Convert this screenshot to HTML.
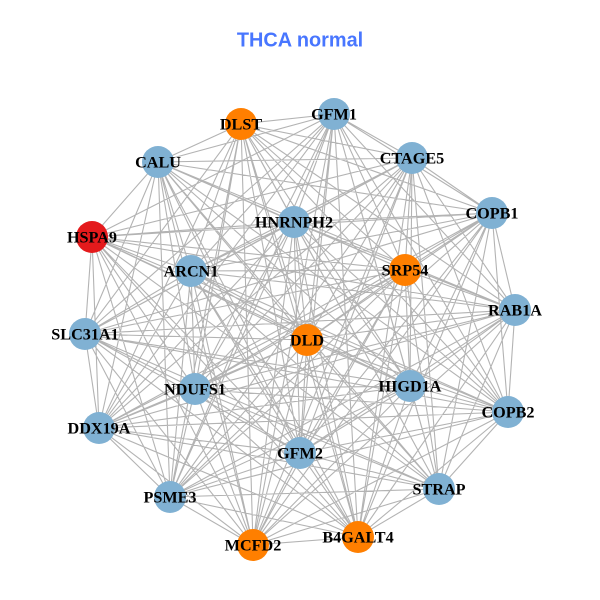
<!DOCTYPE html>
<html><head><meta charset="utf-8"><title>THCA normal</title>
<style>html,body{margin:0;padding:0;background:#fff}svg{display:block}
text.n{font-family:"Liberation Serif",serif;font-weight:bold;font-size:16.2px;fill:#000;text-anchor:middle;dominant-baseline:central}
text.t{font-family:"Liberation Sans",sans-serif;font-weight:bold;font-size:19.9px;fill:#4876ff;text-anchor:middle;dominant-baseline:central}
</style></head><body>
<svg width="600" height="600" viewBox="0 0 600 600" xmlns="http://www.w3.org/2000/svg">
<rect width="600" height="600" fill="#fff"/>
<path fill="none" stroke="#b3b3b3" stroke-width="1.1" d="
M241 124L334 114 241 124 412 158 241 124 492 213 241 124 515 310 241 124 508 412 241 124 439 489 241 124 358 537 241 124 253 545 241 124 170 497 241 124 99 428 241 124 85 334 241 124 158 162 241 124 294 222 241 124 405 270 241 124 191 271 241 124 195 389 241 124 307 340 241 124 410 386 241 124 300 453
M334 114L412 158 334 114 492 213 334 114 515 310 334 114 508 412 334 114 439 489 334 114 358 537 334 114 253 545 334 114 170 497 334 114 99 428 334 114 85 334 334 114 92 237 334 114 158 162 334 114 294 222 334 114 405 270 334 114 191 271 334 114 195 389 334 114 307 340 334 114 410 386 334 114 300 453
M412 158L492 213 412 158 515 310 412 158 508 412 412 158 439 489 412 158 358 537 412 158 253 545 412 158 170 497 412 158 99 428 412 158 85 334 412 158 92 237 412 158 158 162 412 158 294 222 412 158 405 270 412 158 191 271 412 158 195 389 412 158 307 340 412 158 410 386 412 158 300 453
M492 213L515 310 492 213 508 412 492 213 439 489 492 213 358 537 492 213 253 545 492 213 170 497 492 213 99 428 492 213 85 334 492 213 92 237 492 213 158 162 492 213 294 222 492 213 405 270 492 213 191 271 492 213 195 389 492 213 307 340 492 213 410 386 492 213 300 453
M515 310L508 412 515 310 439 489 515 310 358 537 515 310 253 545 515 310 170 497 515 310 99 428 515 310 85 334 515 310 92 237 515 310 158 162 515 310 294 222 515 310 405 270 515 310 191 271 515 310 195 389 515 310 307 340 515 310 410 386 515 310 300 453
M508 412L439 489 508 412 358 537 508 412 253 545 508 412 170 497 508 412 99 428 508 412 85 334 508 412 92 237 508 412 158 162 508 412 294 222 508 412 405 270 508 412 191 271 508 412 195 389 508 412 307 340 508 412 410 386 508 412 300 453
M439 489L358 537 439 489 253 545 439 489 170 497 439 489 99 428 439 489 85 334 439 489 92 237 439 489 158 162 439 489 294 222 439 489 405 270 439 489 191 271 439 489 195 389 439 489 307 340 439 489 410 386 439 489 300 453
M358 537L253 545 358 537 170 497 358 537 99 428 358 537 85 334 358 537 92 237 358 537 158 162 358 537 294 222 358 537 405 270 358 537 191 271 358 537 195 389 358 537 307 340 358 537 410 386 358 537 300 453
M253 545L170 497 253 545 99 428 253 545 85 334 253 545 92 237 253 545 158 162 253 545 294 222 253 545 405 270 253 545 191 271 253 545 195 389 253 545 307 340 253 545 410 386 253 545 300 453
M170 497L99 428 170 497 85 334 170 497 92 237 170 497 158 162 170 497 294 222 170 497 405 270 170 497 191 271 170 497 195 389 170 497 307 340 170 497 410 386 170 497 300 453
M99 428L85 334 99 428 92 237 99 428 158 162 99 428 294 222 99 428 405 270 99 428 191 271 99 428 195 389 99 428 307 340 99 428 410 386 99 428 300 453
M85 334L92 237 85 334 158 162 85 334 294 222 85 334 405 270 85 334 191 271 85 334 195 389 85 334 307 340 85 334 410 386 85 334 300 453
M92 237L158 162 92 237 294 222 92 237 405 270 92 237 191 271 92 237 195 389 92 237 307 340 92 237 410 386 92 237 300 453
M158 162L294 222 158 162 405 270 158 162 191 271 158 162 195 389 158 162 307 340 158 162 410 386 158 162 300 453
M294 222L405 270 294 222 191 271 294 222 195 389 294 222 307 340 294 222 410 386 294 222 300 453
M405 270L191 271 405 270 195 389 405 270 307 340 405 270 410 386 405 270 300 453
M191 271L195 389 191 271 307 340 191 271 410 386 191 271 300 453
M195 389L307 340 195 389 410 386 195 389 300 453
M307 340L410 386 307 340 300 453
M410 386L300 453"/>
<g fill="#80b1d3">
<circle cx="334" cy="114" r="16"/><circle cx="412" cy="158" r="16"/><circle cx="492" cy="213" r="16"/><circle cx="515" cy="310" r="16"/><circle cx="508" cy="412" r="16"/><circle cx="439" cy="489" r="16"/><circle cx="170" cy="497" r="16"/><circle cx="99" cy="428" r="16"/><circle cx="85" cy="334" r="16"/><circle cx="158" cy="162" r="16"/><circle cx="294" cy="222" r="16"/><circle cx="191" cy="271" r="16"/><circle cx="195" cy="389" r="16"/><circle cx="410" cy="386" r="16"/><circle cx="300" cy="453" r="16"/>
</g>
<g fill="#ff7f00">
<circle cx="241" cy="124" r="16"/><circle cx="358" cy="537" r="16"/><circle cx="253" cy="545" r="16"/><circle cx="405" cy="270" r="16"/><circle cx="307" cy="340" r="16"/>
</g>
<circle cx="92" cy="237" r="16" fill="#e41a1c"/>
<text class="t" x="300" y="40.5">THCA normal</text>
<g transform="translate(0 .6)">
<text class="n" x="241" y="124">DLST</text>
<text class="n" x="334" y="114">GFM1</text>
<text class="n" x="412" y="158">CTAGE5</text>
<text class="n" x="492" y="213">COPB1</text>
<text class="n" x="515" y="310">RAB1A</text>
<text class="n" x="508" y="412">COPB2</text>
<text class="n" x="439" y="489">STRAP</text>
<text class="n" x="358" y="537">B4GALT4</text>
<text class="n" x="253" y="545">MCFD2</text>
<text class="n" x="170" y="497">PSME3</text>
<text class="n" x="99" y="428">DDX19A</text>
<text class="n" x="85" y="334">SLC31A1</text>
<text class="n" x="92" y="237">HSPA9</text>
<text class="n" x="158" y="162">CALU</text>
<text class="n" x="294" y="222">HNRNPH2</text>
<text class="n" x="405" y="270">SRP54</text>
<text class="n" x="191" y="271">ARCN1</text>
<text class="n" x="195" y="389">NDUFS1</text>
<text class="n" x="307" y="340">DLD</text>
<text class="n" x="410" y="386">HIGD1A</text>
<text class="n" x="300" y="453">GFM2</text>
</g>
</svg>
</body></html>
